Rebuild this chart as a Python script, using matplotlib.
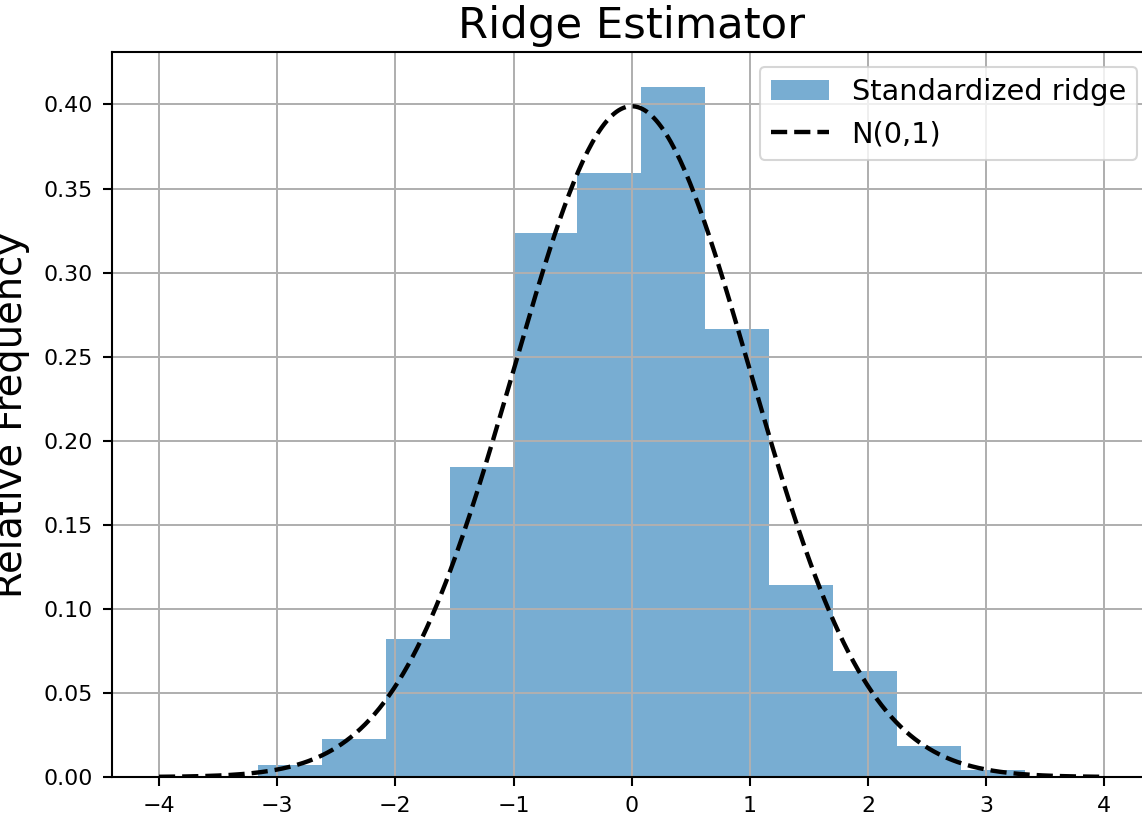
import numpy as np
import matplotlib
matplotlib.use("Agg")
import matplotlib.pyplot as plt

# Histogram (density)
bin_edges = [-3.161, -2.621, -2.080, -1.540, -0.999, -0.459, 0.082, 0.622, 1.163, 1.703, 2.244, 2.784, 3.325]
densities = [0.0071, 0.0228, 0.0821, 0.1843, 0.3233, 0.3590, 0.4105, 0.2666, 0.1142, 0.0630, 0.0186, 0.0042]

# Reference normal curve parameters
norm_mu = 0.0
norm_sigma = 1.0
curve_range = [-4.0, 4.0]

title = "Ridge Estimator"
ylabel = "Relative Frequency"
hist_label = "Standardized ridge"
curve_label = "N(0,1)"

dpi = 150
plt.rcParams["axes.linewidth"] = 1.0
plt.rcParams["grid.linewidth"] = 0.95
fig = plt.figure(figsize=(1142 / dpi, 822 / dpi), dpi=dpi)
ax = fig.add_axes([111.7 / 1142, 45 / 822, 1040 / 1142, 724.7 / 822])

edges = np.array(bin_edges)
centers = (edges[:-1] + edges[1:]) / 2
ax.hist(centers, bins=edges, weights=densities, color="tab:blue", alpha=0.6,
        label=hist_label)

xs = np.linspace(curve_range[0], curve_range[1], 400)
pdf = np.exp(-0.5 * ((xs - norm_mu) / norm_sigma) ** 2) / (norm_sigma * np.sqrt(2 * np.pi))
ax.plot(xs, pdf, "k--", linewidth=2.1, label=curve_label)

ax.set_title(title, fontsize=20.8, pad=7)
ax.set_ylabel(ylabel, fontsize=18.5, labelpad=6.5)
ax.tick_params(labelsize=10.6, length=4.3, width=1.0, pad=4.8)
ax.grid(True)
ax.legend(fontsize=13.8, loc="upper right")

fig.savefig("out.png", dpi=dpi)
